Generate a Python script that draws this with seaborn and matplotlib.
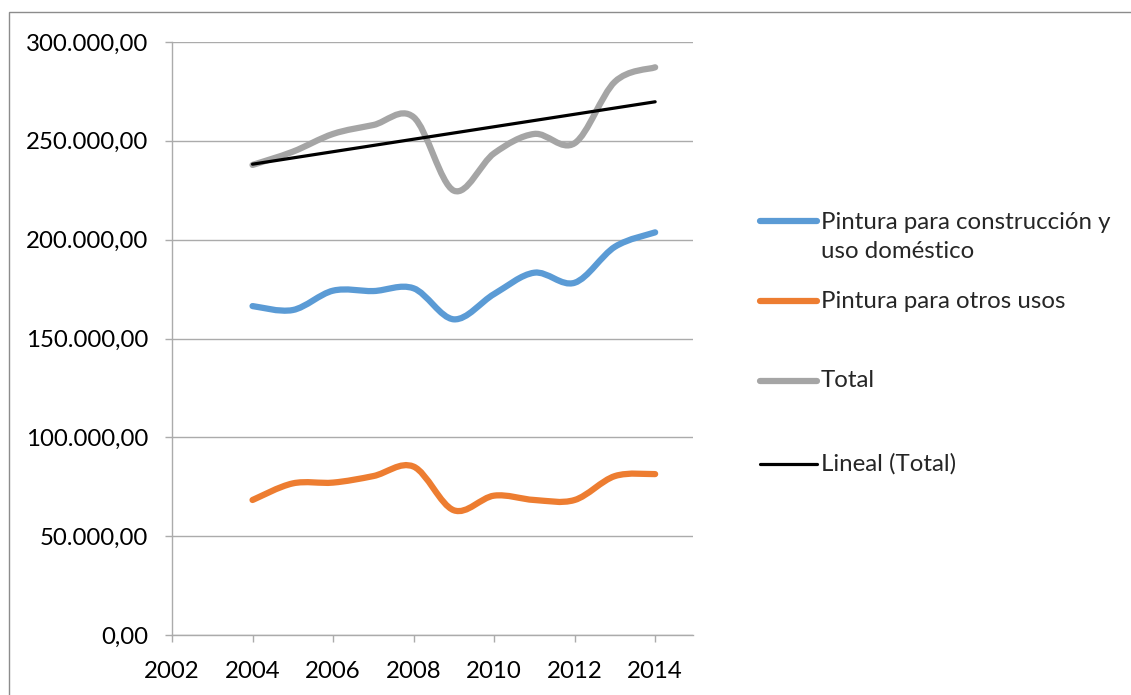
import numpy as np
import matplotlib
matplotlib.use("Agg")
import matplotlib.pyplot as plt
from matplotlib.path import Path
from matplotlib.patches import PathPatch, Rectangle
from matplotlib.lines import Line2D
from matplotlib.ticker import FuncFormatter, MultipleLocator
import seaborn as sns

# datos
years = [2004, 2005, 2006, 2007, 2008, 2009, 2010, 2011, 2012, 2013, 2014]
construccion = [166400, 164400, 174200, 174000, 175400, 159700, 172500, 183300, 178200, 196400, 203700]
otros_usos = [68300, 76700, 77100, 80400, 85200, 63100, 70500, 68300, 68300, 80400, 81400]
total = [237800, 244500, 253500, 258000, 262000, 224800, 243700, 253500, 248800, 279900, 287200]

labels = ["Pintura para construcción y\nuso doméstico", "Pintura para otros usos", "Total", "Lineal (Total)"]
colors = ["#5B9BD5", "#ED7D31", "#A5A5A5", "#000000"]
grid_color = "#ABABAB"
font_size = 17.3


def smooth_path(x, y):
    # curva suavizada tipo Excel (bezier catmull-rom entre puntos)
    x = np.asarray(x, float)
    y = np.asarray(y, float)
    n = len(x)
    verts = [(x[0], y[0])]
    codes = [Path.MOVETO]
    for i in range(n - 1):
        i0 = max(i - 1, 0)
        i3 = min(i + 2, n - 1)
        c1 = (x[i] + (x[i + 1] - x[i0]) / 6, y[i] + (y[i + 1] - y[i0]) / 6)
        c2 = (x[i + 1] - (x[i3] - x[i]) / 6, y[i + 1] - (y[i3] - y[i]) / 6)
        verts += [c1, c2, (x[i + 1], y[i + 1])]
        codes += [Path.CURVE4] * 3
    return Path(verts, codes)


sns.set_style("white")
plt.rcParams['font.family'] = ['Lato', 'DejaVu Sans']

W, H = 1131, 695
fig = plt.figure(figsize=(W / 100, H / 100), dpi=100)
ax = fig.add_axes([172 / W, (H - 635) / H, 521 / W, 593 / H])

for serie, col in zip([construccion, otros_usos, total], colors[:3]):
    patch = PathPatch(smooth_path(years, serie), fill=False, edgecolor=col, lw=4.5,
                      capstyle='round', joinstyle='round')
    ax.add_patch(patch)

# linea de tendencia lineal del total
sns.regplot(x=years, y=total, scatter=False, ci=None, truncate=True, color='black',
            line_kws={'lw': 2.3, 'solid_capstyle': 'round'}, ax=ax)

ax.set_xlim(2002, 2014.94)
ax.set_ylim(0, 300000)
ax.xaxis.set_major_locator(MultipleLocator(2))
ax.yaxis.set_major_locator(MultipleLocator(50000))
ax.yaxis.set_major_formatter(FuncFormatter(
    lambda v, p: f"{v:,.2f}".replace(",", "X").replace(".", ",").replace("X", ".")))
ax.set_xlabel("")
ax.set_ylabel("")

ax.yaxis.grid(True, color=grid_color, lw=1.0)
ax.set_axisbelow(True)
for s in ["top", "right"]:
    ax.spines[s].set_visible(False)
for s in ["left", "bottom"]:
    ax.spines[s].set_color(grid_color)
    ax.spines[s].set_linewidth(1.0)
ax.tick_params(axis='both', direction='out', length=5, width=1.0, color=grid_color,
               labelsize=font_size, labelcolor='black', bottom=True, left=True)
ax.tick_params(axis='y', pad=12)
ax.tick_params(axis='x', pad=14)

# leyenda a mano (estilo Excel)
leg_y = [237, 301, 381, 464]
line_y = [221, 301, 381, 464]
lws = [4.5, 4.5, 4.5, 2.3]
for lab, col, ty, ly, lw in zip(labels, colors, leg_y, line_y, lws):
    fig.add_artist(Line2D([760 / W, 817 / W], [1 - ly / H, 1 - ly / H], color=col, lw=lw,
                          solid_capstyle='round', transform=fig.transFigure))
    fig.text(821 / W, 1 - ty / H, lab, fontsize=font_size, va='center', ha='left', linespacing=1.42)

# marco exterior del grafico
fig.add_artist(Rectangle((9 / W, -0.1), 1.2, (1 - 12 / H) + 0.1, transform=fig.transFigure,
                         fill=False, edgecolor='#8C8C8C', lw=1.0))

fig.savefig("out.png", dpi=100)
